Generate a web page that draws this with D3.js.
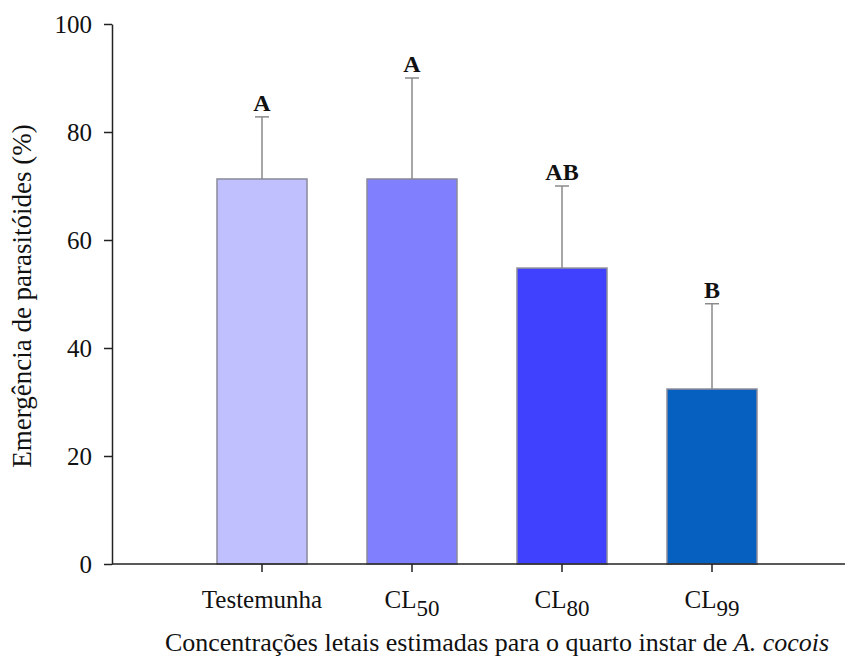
<!DOCTYPE html>
<html>
<head>
<meta charset="utf-8">
<script src="https://cdn.jsdelivr.net/npm/d3@7"></script>
<style>
  body { margin: 0; background: #fff; }
  text { font-family: "Liberation Serif", "DejaVu Serif", serif; }
</style>
</head>
<body>
<svg id="chart" width="853" height="662"></svg>
<script>
// data
const groups = ["Testemunha", "CL50", "CL80", "CL99"];
const labelMain = ["Testemunha", "CL", "CL", "CL"];
const labelSub = ["", "50", "80", "99"];
const means = [71.3, 71.3, 54.8, 32.4];
const errors = [11.5, 18.7, 15.2, 15.8];
const letters = ["A", "A", "AB", "B"];
const colors = ["#c0c0ff", "#8080ff", "#4040ff", "#0560c0"];
const yTicks = [0, 20, 40, 60, 80, 100];

const svg = d3.select("#chart");

const x = d3.scaleBand()
  .domain(groups)
  .range([187, 787])
  .paddingInner(0.4)
  .paddingOuter(0.2);

const y = d3.scaleLinear()
  .domain([0, 100])
  .range([564, 24]);

// y axis
const yAxis = svg.append("g")
  .attr("transform", "translate(112,0)")
  .call(d3.axisLeft(y).tickValues(yTicks).tickSize(8).tickSizeOuter(0).tickPadding(12));
yAxis.select(".domain").attr("stroke", "#222").attr("stroke-width", 1.5);
yAxis.selectAll(".tick line").attr("stroke", "#222").attr("stroke-width", 1.5);
yAxis.selectAll(".tick text")
  .attr("font-size", 25)
  .attr("fill", "#111")
  .attr("font-family", "Liberation Serif");

// bars
svg.append("g").selectAll("rect")
  .data(groups)
  .enter()
  .append("rect")
  .attr("x", d => x(d))
  .attr("y", (d, i) => y(means[i]))
  .attr("width", x.bandwidth())
  .attr("height", (d, i) => y(0) - y(means[i]))
  .attr("fill", (d, i) => colors[i])
  .attr("stroke", "#8a8a9a")
  .attr("stroke-width", 1.5);

// error bars (upper only)
const err = svg.append("g").attr("stroke", "#8a8a8a").attr("stroke-width", 1.5);
groups.forEach((g, i) => {
  const cx = x(g) + x.bandwidth() / 2;
  err.append("line")
    .attr("x1", cx).attr("x2", cx)
    .attr("y1", y(means[i])).attr("y2", y(means[i] + errors[i]));
  err.append("line")
    .attr("x1", cx - 7).attr("x2", cx + 7)
    .attr("y1", y(means[i] + errors[i])).attr("y2", y(means[i] + errors[i]));
});

// significance letters
svg.append("g").selectAll("text")
  .data(groups)
  .enter()
  .append("text")
  .attr("x", d => x(d) + x.bandwidth() / 2)
  .attr("y", (d, i) => y(means[i] + errors[i]) - 6)
  .attr("text-anchor", "middle")
  .attr("font-size", 24)
  .attr("font-weight", "bold")
  .attr("fill", "#111")
  .text((d, i) => letters[i]);

// x axis
const xAxis = svg.append("g")
  .attr("transform", "translate(0,564)");
xAxis.append("line")
  .attr("x1", 112).attr("x2", 845)
  .attr("stroke", "#222").attr("stroke-width", 1.5);
groups.forEach((g, i) => {
  const cx = x(g) + x.bandwidth() / 2;
  xAxis.append("line")
    .attr("x1", cx).attr("x2", cx).attr("y1", 0).attr("y2", 8)
    .attr("stroke", "#222").attr("stroke-width", 1.5);
  const t = xAxis.append("text")
    .attr("x", cx)
    .attr("y", 44)
    .attr("text-anchor", "middle")
    .attr("font-size", 25)
    .attr("fill", "#111");
  t.append("tspan").text(labelMain[i]);
  if (labelSub[i]) {
    t.append("tspan").attr("dy", 8).attr("font-size", 23).text(labelSub[i]);
  }
});

// axis titles
const xt = svg.append("text")
  .attr("x", 497)
  .attr("y", 651)
  .attr("text-anchor", "middle")
  .attr("font-size", 26)
  .attr("fill", "#111");
xt.append("tspan").text("Concentrações letais estimadas para o quarto instar de ");
xt.append("tspan").attr("font-style", "italic").text("A. cocois");

svg.append("text")
  .attr("transform", "translate(31,296) rotate(-90)")
  .attr("text-anchor", "middle")
  .attr("font-size", 27)
  .attr("fill", "#111")
  .text("Emergência de parasitóides (%)");
</script>
</body>
</html>
